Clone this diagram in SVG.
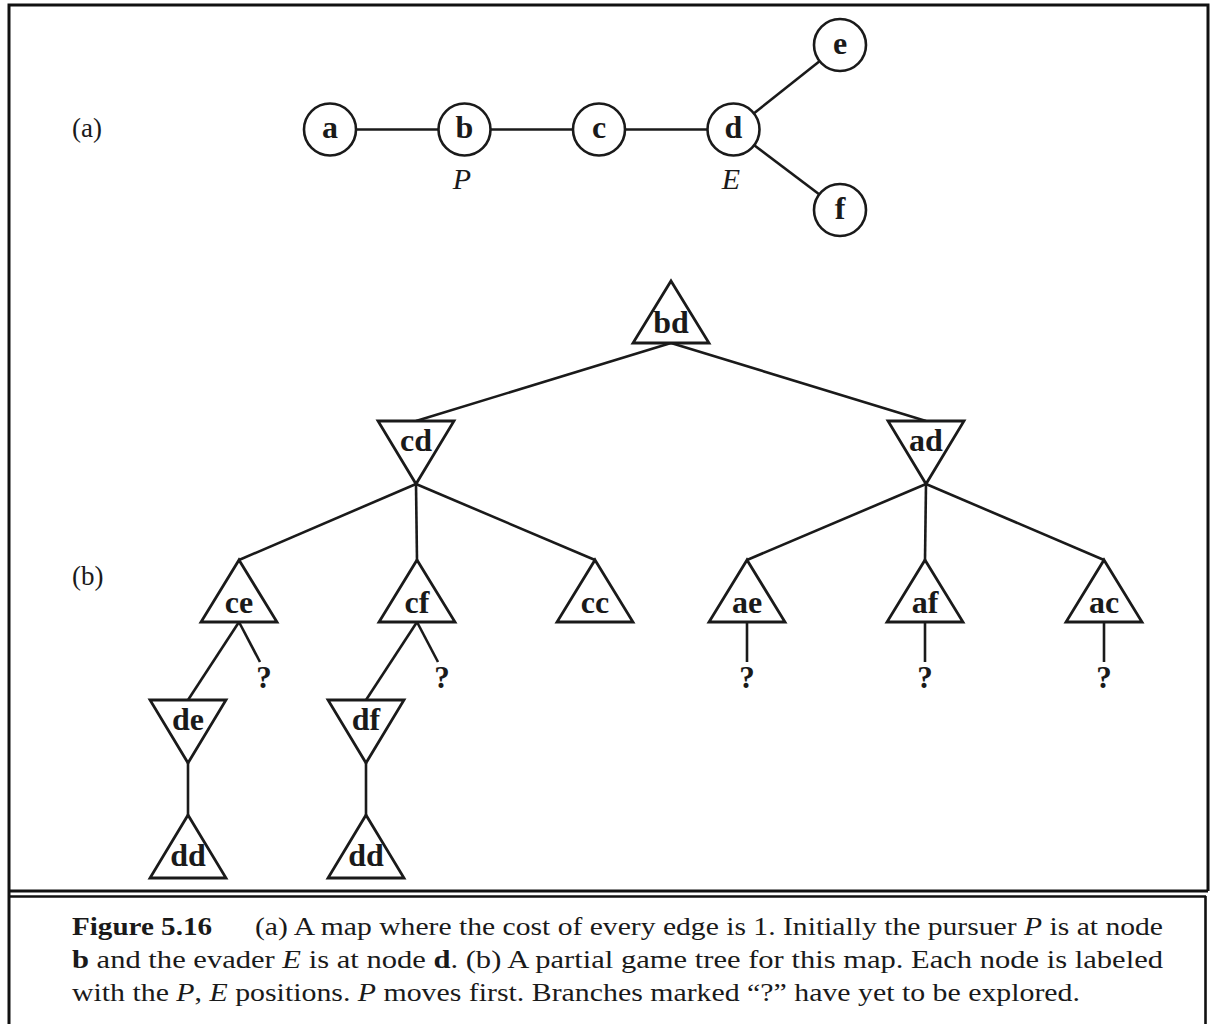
<svg xmlns="http://www.w3.org/2000/svg" width="1213" height="1024" viewBox="0 0 1213 1024">
<style>
.frame{fill:none;stroke:#111;stroke-width:3}
.edge{stroke:#1a1a1a;stroke-width:2.6;fill:none;stroke-linecap:butt}
.node{fill:#fff;stroke:#1a1a1a;stroke-width:2.6}
.tri{fill:#fff;stroke:#1a1a1a;stroke-width:2.8;stroke-linejoin:miter}
.lbl{font-family:"Liberation Serif","Times New Roman",serif;font-weight:bold;font-size:32px;fill:#1a1a1a;text-anchor:middle}
.q{font-family:"Liberation Serif","Times New Roman",serif;font-weight:bold;font-size:31px;fill:#1a1a1a;text-anchor:middle}
.it{font-family:"Liberation Serif","Times New Roman",serif;font-style:italic;font-size:30px;fill:#1a1a1a;text-anchor:middle}
.part{font-family:"Liberation Serif","Times New Roman",serif;font-size:27px;fill:#1a1a1a}
.cap{font-family:"Liberation Serif","Times New Roman",serif;font-size:25.5px;fill:#1a1a1a}
.b{font-weight:bold}
.i{font-style:italic}
</style>
<rect width="1213" height="1024" fill="#fff"/>
<g id="frame">
<polyline class="frame" points="9,1024 9,5 1208,5 1208,891"/>
<line class="frame" x1="9" y1="891" x2="1208" y2="891"/>
<line class="frame" x1="9" y1="896.5" x2="1206" y2="896.5" style="stroke-width:2.5"/>
<line class="frame" x1="1205.5" y1="896" x2="1205.5" y2="1024" style="stroke-width:2.6"/>
</g>
<text class="part" x="72" y="137">(a)</text>
<text class="part" x="72" y="585">(b)</text>
<g id="connectors">
<line class="edge" x1="330" y1="129.5" x2="464.5" y2="129.5"/>
<line class="edge" x1="464.5" y1="129.5" x2="599" y2="129.5"/>
<line class="edge" x1="599" y1="129.5" x2="733.5" y2="129.5"/>
<line class="edge" x1="733.5" y1="129.5" x2="840" y2="45"/>
<line class="edge" x1="733.5" y1="129.5" x2="840" y2="210"/>
<line class="edge" x1="671" y1="343" x2="416" y2="421"/>
<line class="edge" x1="671" y1="343" x2="926" y2="421"/>
<line class="edge" x1="416" y1="484" x2="239" y2="560"/>
<line class="edge" x1="416" y1="484" x2="417" y2="560"/>
<line class="edge" x1="416" y1="484" x2="595" y2="560"/>
<line class="edge" x1="926" y1="484" x2="747" y2="560"/>
<line class="edge" x1="926" y1="484" x2="925" y2="560"/>
<line class="edge" x1="926" y1="484" x2="1104" y2="560"/>
<line class="edge" x1="239" y1="622" x2="188" y2="700"/>
<line class="edge" x1="239" y1="622" x2="260" y2="662"/>
<line class="edge" x1="417" y1="622" x2="366" y2="700"/>
<line class="edge" x1="417" y1="622" x2="438" y2="662"/>
<line class="edge" x1="188" y1="763" x2="188" y2="815"/>
<line class="edge" x1="366" y1="763" x2="366" y2="815"/>
<line class="edge" x1="747" y1="622" x2="747" y2="662"/>
<line class="edge" x1="925" y1="622" x2="925" y2="662"/>
<line class="edge" x1="1104" y1="622" x2="1104" y2="662"/>
</g>
<g id="map-a"><circle class="node" cx="330" cy="129.5" r="26"/><text class="lbl" x="330" y="138">a</text></g>
<g id="map-b"><circle class="node" cx="464.5" cy="129.5" r="26"/><text class="lbl" x="464.5" y="138">b</text></g>
<g id="map-c"><circle class="node" cx="599" cy="129.5" r="26"/><text class="lbl" x="599" y="138">c</text></g>
<g id="map-d"><circle class="node" cx="733.5" cy="129.5" r="26"/><text class="lbl" x="733.5" y="138">d</text></g>
<g id="map-e"><circle class="node" cx="840" cy="45" r="26"/><text class="lbl" x="840" y="53.5">e</text></g>
<g id="map-f"><circle class="node" cx="840" cy="210" r="26"/><text class="lbl" x="840" y="219">f</text></g>
<text class="it" x="462" y="189">P</text>
<text class="it" x="731" y="189">E</text>
<g id="t-bd"><polygon class="tri" points="671,281 709,343 633,343"/><text class="lbl" x="671" y="333">bd</text></g>
<g id="t-cd"><polygon class="tri" points="378,421 454,421 416,484"/><text class="lbl" x="416" y="451">cd</text></g>
<g id="t-ad"><polygon class="tri" points="888,421 964,421 926,484"/><text class="lbl" x="926" y="451">ad</text></g>
<g id="t-ce"><polygon class="tri" points="239,560 277,622 201,622"/><text class="lbl" x="239" y="613">ce</text></g>
<g id="t-cf"><polygon class="tri" points="417,560 455,622 379,622"/><text class="lbl" x="417" y="613">cf</text></g>
<g id="t-cc"><polygon class="tri" points="595,560 633,622 557,622"/><text class="lbl" x="595" y="613">cc</text></g>
<g id="t-ae"><polygon class="tri" points="747,560 785,622 709,622"/><text class="lbl" x="747" y="613">ae</text></g>
<g id="t-af"><polygon class="tri" points="925,560 963,622 887,622"/><text class="lbl" x="925" y="613">af</text></g>
<g id="t-ac"><polygon class="tri" points="1104,560 1142,622 1066,622"/><text class="lbl" x="1104" y="613">ac</text></g>
<g id="t-de"><polygon class="tri" points="150,700 226,700 188,763"/><text class="lbl" x="188" y="730">de</text></g>
<g id="t-df"><polygon class="tri" points="328,700 404,700 366,763"/><text class="lbl" x="366" y="730">df</text></g>
<g id="t-dd1"><polygon class="tri" points="188,815 226,878 150,878"/><text class="lbl" x="188" y="866">dd</text></g>
<g id="t-dd2"><polygon class="tri" points="366,815 404,878 328,878"/><text class="lbl" x="366" y="866">dd</text></g>
<g id="unexplored">
<text class="q" x="264" y="688">?</text>
<text class="q" x="442" y="688">?</text>
<text class="q" x="747" y="688">?</text>
<text class="q" x="925" y="688">?</text>
<text class="q" x="1104" y="688">?</text>
</g>
<g id="caption">
<text class="cap b" x="72" y="935" textLength="140" lengthAdjust="spacingAndGlyphs">Figure 5.16</text>
<text class="cap" x="255" y="935" textLength="908" lengthAdjust="spacingAndGlyphs">(a) A map where the cost of every edge is 1. Initially the pursuer <tspan class="i">P</tspan> is at node</text>
<text class="cap" x="72" y="968" textLength="1091" lengthAdjust="spacingAndGlyphs"><tspan class="b">b</tspan> and the evader <tspan class="i">E</tspan> is at node <tspan class="b">d</tspan>. (b) A partial game tree for this map. Each node is labeled</text>
<text class="cap" x="72" y="1001" textLength="1008" lengthAdjust="spacingAndGlyphs">with the <tspan class="i">P</tspan>, <tspan class="i">E</tspan> positions. <tspan class="i">P</tspan> moves first. Branches marked “?” have yet to be explored.</text>
</g>
</svg>
